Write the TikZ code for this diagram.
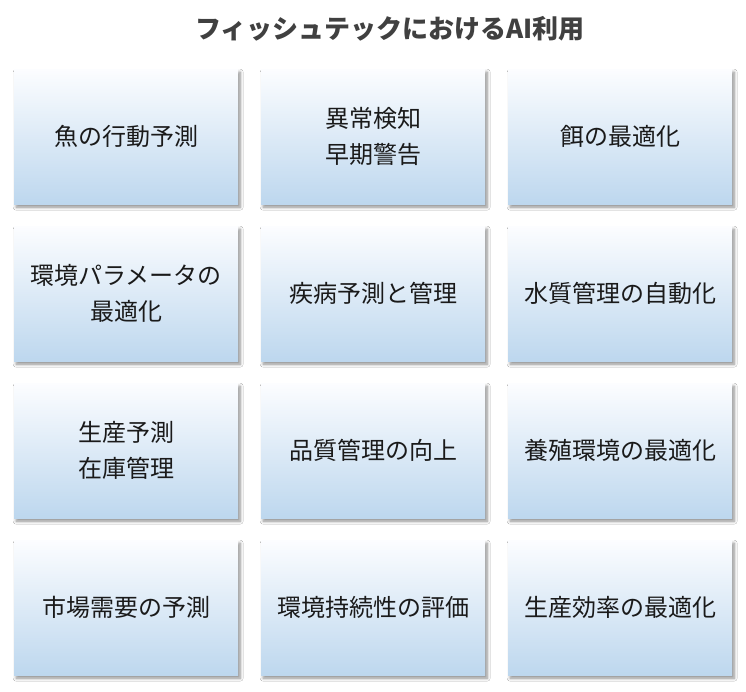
\documentclass[tikz,border=0pt]{standalone}
\usepackage{fontspec}
\newfontfamily\jpfont{Noto Sans CJK JP}
\usetikzlibrary{shadows.blur}
\definecolor{boxbot}{RGB}{189,215,238}
\definecolor{boxtop}{RGB}{252,253,255}
\definecolor{titlegray}{RGB}{64,64,64}
\definecolor{txt}{RGB}{26,26,26}
\tikzset{
  card/.style={draw=none, minimum width=224pt, minimum height=135pt, inner sep=0pt,
    top color=boxtop, bottom color=boxbot, anchor=north west,
    align=center, font=\jpfont\fontsize{24}{36}\selectfont, text=txt,
    blur shadow={shadow xshift=2pt, shadow yshift=-3pt, shadow blur steps=6, shadow opacity=45, shadow blur radius=3pt}},
  ttl/.style={font=\jpfont\bfseries\fontsize{26}{30}\selectfont, text=titlegray}
}
\begin{document}
\begin{tikzpicture}[x=1pt,y=-1pt]
\useasboundingbox[fill=white] (0,0) rectangle (746,692);
\node[ttl] (title) at (390,29) {フィッシュテックにおけるAI利用};
\node[card] (a1) at (14,69) {魚の行動予測};
\node[card] (a2) at (261,69) {異常検知\\早期警告};
\node[card] (a3) at (508,69) {餌の最適化};
\node[card] (b1) at (14,226) {環境パラメータの\\最適化};
\node[card] (b2) at (261,226) {疾病予測と管理};
\node[card] (b3) at (508,226) {水質管理の自動化};
\node[card] (c1) at (14,383) {生産予測\\在庫管理};
\node[card] (c2) at (261,383) {品質管理の向上};
\node[card] (c3) at (508,383) {養殖環境の最適化};
\node[card] (d1) at (14,540) {市場需要の予測};
\node[card] (d2) at (261,540) {環境持続性の評価};
\node[card] (d3) at (508,540) {生産効率の最適化};
\end{tikzpicture}
\end{document}
